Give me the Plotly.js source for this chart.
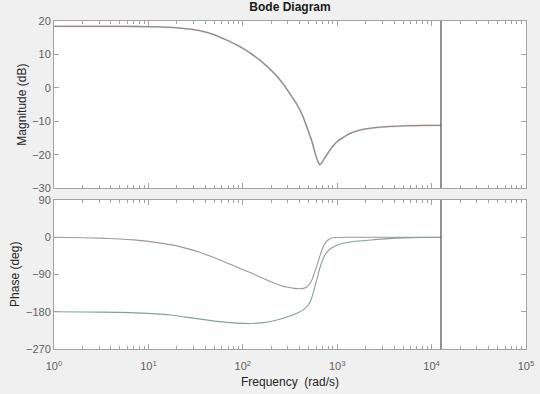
<!DOCTYPE html>
<html>
<head>
<meta charset="utf-8">
<script src="https://cdn.plot.ly/plotly-3.0.1.min.js"></script>
<style>html,body{margin:0;padding:0;background:#f0f0f0;}#chart{width:540px;height:394px;}</style>
</head>
<body>
<div id="chart"></div>
<script>
// ---- data ----
const magFreq = [1, 3, 6, 10, 15, 20, 28, 35, 45, 55, 70, 87, 105, 120, 150, 181, 225, 272, 320, 377, 430, 481, 540, 590, 625, 655, 690, 735, 783, 880, 1000, 1190, 1386, 1700, 2085, 2800, 3690, 5000, 7080, 10000, 12566];
const magDb   = [18.4, 18.4, 18.38, 18.3, 18.15, 17.95, 17.55, 17.1, 16.3, 15.4, 14.1, 12.8, 11.5, 10.4, 8.4, 6.4, 3.8, 0.9, -2.0, -5.1, -8.3, -12.0, -16.0, -20.0, -22.0, -23.0, -22.3, -21.0, -19.8, -17.8, -16.0, -14.6, -13.5, -12.7, -12.2, -11.75, -11.5, -11.35, -11.25, -11.2, -11.2];

const phaseFreqA = [1, 2, 3, 5, 7, 10, 14.7, 20, 26, 35, 45, 59, 75, 95, 133, 170, 210, 255, 300, 350, 399, 440, 470, 500, 540, 575, 610, 650, 705, 760, 820, 900, 1000, 1200, 2000, 12566];
const phaseA     = [0, -1.3, -2.3, -4.3, -6.5, -10, -15.5, -21, -27.5, -36.5, -45.5, -56, -66, -76, -90, -101, -110, -117, -121, -123.5, -124.5, -123.5, -121, -116, -103, -86, -68, -48, -25, -12, -5, -1.5, -0.5, 0, 0, 0];

const phaseFreqB = [1, 2, 5, 10, 17.3, 25, 39, 60, 88, 120, 156, 220, 299, 380, 451, 500, 540, 580, 620, 652, 700, 767, 870, 1019, 1500, 2300, 3500, 5200, 8000, 12566];
const phaseB     = [-180, -180.5, -181.5, -184, -188, -193, -199, -204.5, -207.5, -208.3, -207, -201, -192, -183, -173, -162, -145, -120, -95, -76, -55, -38, -26, -18, -10.5, -6.6, -3.5, -1.7, -0.7, 0];

const nyquistFreq = 12566;
const magRange = [-30, 20];
const phaseRange = [-270, 90];
const xTickVals = [1, 10, 100, 1000, 10000, 100000];
const xTickText = ['10<sup>0</sup>', '10<sup>1</sup>', '10<sup>2</sup>', '10<sup>3</sup>', '10<sup>4</sup>', '10<sup>5</sup>'];

// ---- styling ----
const axCol = '#a3a3a3';
const fam = 'Liberation Sans, Arial, sans-serif';
const tickFont = {family: fam, size: 11, color: '#606060'};
const titleFont = {family: fam, size: 12, color: '#262626'};

const traces = [
  {x: magFreq, y: magDb, xaxis: 'x2', yaxis: 'y', mode: 'lines', line: {color: '#f2ddd5', width: 2.0, shape: 'spline', smoothing: 0.8}, hoverinfo: 'skip'},
  {x: magFreq, y: magDb, xaxis: 'x2', yaxis: 'y', mode: 'lines', line: {color: '#8d8d8d', width: 1.3, shape: 'spline', smoothing: 0.8}, hoverinfo: 'skip'},
  {x: [nyquistFreq, nyquistFreq], y: magRange, xaxis: 'x2', yaxis: 'y', mode: 'lines', line: {color: '#5a5a5a', width: 1.3}, hoverinfo: 'skip'},
  {x: phaseFreqA, y: phaseA, xaxis: 'x', yaxis: 'y2', mode: 'lines', line: {color: '#a39696', width: 1.1, shape: 'spline', smoothing: 0.8}, hoverinfo: 'skip'},
  {x: phaseFreqB, y: phaseB, xaxis: 'x', yaxis: 'y2', mode: 'lines', line: {color: '#8a9c9e', width: 1.1, shape: 'spline', smoothing: 0.8}, hoverinfo: 'skip'},
  {x: [nyquistFreq, nyquistFreq], y: phaseRange, xaxis: 'x', yaxis: 'y2', mode: 'lines', line: {color: '#5a5a5a', width: 1.3}, hoverinfo: 'skip'}
];

const xCommon = {
  type: 'log', range: [0, 5], tickmode: 'array', tickvals: xTickVals, ticktext: xTickText,
  ticks: 'inside', ticklen: 5, tickcolor: axCol, showline: true, linecolor: axCol, linewidth: 1, mirror: 'ticks',
  showgrid: false, zeroline: false, tickfont: tickFont,
  minor: {ticks: 'inside', ticklen: 3, tickcolor: axCol, dtick: 'D1', showgrid: false}
};
const yCommon = {
  ticks: 'inside', ticklen: 5, tickcolor: axCol, showline: true, linecolor: axCol, linewidth: 1, mirror: 'ticks',
  showgrid: false, zeroline: false, tickfont: tickFont
};

const layout = {
  width: 540, height: 394,
  paper_bgcolor: '#f0f0f0', plot_bgcolor: '#ffffff',
  margin: {l: 54, r: 14, t: 21, b: 45},
  showlegend: false,
  title: {text: '<b>Bode Diagram</b>', x: 0.5, xref: 'paper', y: 0.982, yref: 'container', yanchor: 'middle',
          font: {family: fam, size: 12, color: '#1a1a1a'}},
  xaxis: Object.assign({}, xCommon, {anchor: 'y2', domain: [0, 1], ticklabelstandoff: 7}),
  xaxis2: Object.assign({}, xCommon, {anchor: 'y', matches: 'x', showticklabels: false}),
  yaxis: Object.assign({}, yCommon, {anchor: 'x2', domain: [0.49, 1], range: magRange, dtick: 10, tick0: 0}),
  yaxis2: Object.assign({}, yCommon, {anchor: 'x', domain: [0, 0.4544], range: phaseRange, dtick: 90, tick0: 0}),
  annotations: [
    {text: 'Magnitude (dB)', xref: 'paper', x: -0.0678, xanchor: 'center', yref: 'y domain', y: 0.5, yanchor: 'middle',
     textangle: -90, showarrow: false, font: titleFont},
    {text: 'Phase (deg)', xref: 'paper', x: -0.0816, xanchor: 'center', yref: 'y2 domain', y: 0.5, yanchor: 'middle',
     textangle: -90, showarrow: false, font: titleFont},
    {text: 'Frequency&nbsp; (rad/s)', xref: 'paper', x: 0.5, xanchor: 'center', yref: 'paper', y: -0.1, yanchor: 'middle',
     showarrow: false, font: titleFont}
  ]
};

Plotly.newPlot('chart', traces, layout, {staticPlot: true, displayModeBar: false});
</script>
</body>
</html>
